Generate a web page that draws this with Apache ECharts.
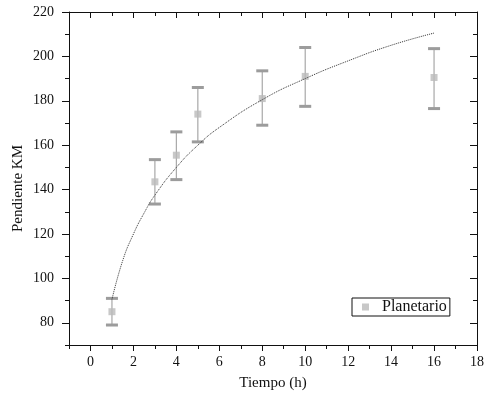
<!DOCTYPE html>
<html>
<head>
<meta charset="utf-8">
<script src="https://cdn.jsdelivr.net/npm/echarts@6/dist/echarts.min.js"></script>
<style>
  html, body { margin: 0; padding: 0; background: #fff; }
  #chart { width: 502px; height: 399px; }
</style>
</head>
<body>
<div id="chart"></div>
<script>
// tick labels
const xTicks = [0, 2, 4, 6, 8, 10, 12, 14, 16, 18];
const yTicks = [80, 100, 120, 140, 160, 180, 200, 220];

// measured points (Planetario)
const tiempo = [1, 3, 4, 5, 8, 10, 16];
const pendiente = [85, 143.5, 155.5, 174, 181, 191, 190.5];
const errLow = [79, 133.5, 144.5, 161.5, 169, 177.5, 176.5];
const errHigh = [91, 153.5, 166, 186, 193.5, 204, 203.5];

// fitted curve
const fitX = [1, 1.5, 2, 2.5, 3, 4, 5, 6, 8, 10, 12, 14, 16];
const fitY = [90.5, 108, 120, 129.5, 137.5, 150, 160, 168, 180.5, 190, 198, 205, 210.5];

const font = 'Liberation Serif';
const ink = '#111';

function xAxisDef(pos, major, inside) {
    return {
        type: 'value', position: pos, min: -1, max: 18,
        interval: major ? undefined : 1,
        splitLine: { show: false },
        axisLine: { show: major, onZero: false, lineStyle: { color: ink, width: 1 } },
        axisTick: major
            ? { show: true, inside: inside, length: 6, customValues: xTicks, lineStyle: { color: ink } }
            : { show: true, inside: inside, length: 4, lineStyle: { color: ink } },
        axisLabel: (major && pos === 'bottom')
            ? { show: true, customValues: xTicks, margin: 10, color: ink, fontFamily: font, fontSize: 14 }
            : { show: false }
    };
}

function yAxisDef(pos, major, inside) {
    return {
        type: 'value', position: pos, min: 70, max: 220,
        interval: major ? undefined : 10,
        splitLine: { show: false },
        axisLine: { show: major, onZero: false, lineStyle: { color: ink, width: 1 } },
        axisTick: major
            ? { show: true, inside: inside, length: 7, customValues: yTicks, lineStyle: { color: ink } }
            : { show: true, inside: inside, length: 4, lineStyle: { color: ink } },
        axisLabel: (major && pos === 'left')
            ? { show: true, customValues: yTicks, margin: 15, color: ink, fontFamily: font, fontSize: 14 }
            : { show: false }
    };
}

const xAxes = [
    xAxisDef('bottom', true, false),
    xAxisDef('bottom', false, false),
    xAxisDef('top', true, true),
    xAxisDef('top', false, true)
];
xAxes[0].name = 'Tiempo (h)';
xAxes[0].nameLocation = 'middle';
xAxes[0].nameGap = 31;
xAxes[0].nameMoveOverlap = false;
xAxes[0].nameTextStyle = { color: ink, fontFamily: font, fontSize: 15 };

const yAxes = [
    yAxisDef('left', true, false),
    yAxisDef('left', false, false),
    yAxisDef('right', true, true),
    yAxisDef('right', false, true)
];
yAxes[0].name = 'Pendiente KM';
yAxes[0].nameLocation = 'middle';
yAxes[0].nameGap = 43;
yAxes[0].nameMoveOverlap = false;
yAxes[0].nameTextStyle = { color: ink, fontFamily: font, fontSize: 15, padding: [0, 20, 0, 0] };

const errData = tiempo.map((t, i) => [t, errLow[i], errHigh[i]]);
const pointData = tiempo.map((t, i) => [t, pendiente[i]]);
const fitData = fitX.map((t, i) => [t, fitY[i]]);

const chart = echarts.init(document.getElementById('chart'), null, { renderer: 'canvas' });
chart.setOption({
    animation: false,
    backgroundColor: '#fff',
    grid: { left: 69, right: 25, top: 12, bottom: 54 },
    xAxis: xAxes,
    yAxis: yAxes,
    legend: {
        data: ['Planetario'],
        left: 352, top: 298,
        orient: 'vertical',
        borderColor: ink, borderWidth: 1,
        padding: [1, 3, 1, 10],
        itemWidth: 7, itemHeight: 7,
        icon: 'rect',
        textStyle: { color: ink, fontFamily: font, fontSize: 16, padding: [0, 0, 0, 8] }
    },
    series: [
        {
            name: 'error',
            type: 'custom',
            xAxisIndex: 0, yAxisIndex: 0,
            z: 2,
            encode: { x: 0, y: [1, 2] },
            data: errData,
            renderItem: function (params, api) {
                const x = api.value(0);
                const lo = api.coord([x, api.value(1)]);
                const hi = api.coord([x, api.value(2)]);
                return {
                    type: 'group',
                    children: [
                        { type: 'line', shape: { x1: lo[0], y1: lo[1], x2: hi[0], y2: hi[1] },
                          style: { stroke: '#a8a8a8', lineWidth: 1.2 } },
                        { type: 'rect', shape: { x: hi[0] - 6, y: hi[1] - 1.5, width: 12, height: 3 },
                          style: { fill: '#9c9c9c' } },
                        { type: 'rect', shape: { x: lo[0] - 6, y: lo[1] - 1.5, width: 12, height: 3 },
                          style: { fill: '#9c9c9c' } }
                    ]
                };
            }
        },
        {
            name: 'Planetario',
            type: 'scatter',
            xAxisIndex: 0, yAxisIndex: 0,
            z: 3,
            symbol: 'rect',
            symbolSize: 7,
            itemStyle: { color: '#bababa' },
            data: pointData
        },
        {
            name: 'ajuste',
            type: 'line',
            xAxisIndex: 0, yAxisIndex: 0,
            z: 4,
            smooth: true,
            showSymbol: false,
            lineStyle: { color: '#333', width: 1, type: [1, 1] },
            data: fitData
        }
    ]
});
</script>
</body>
</html>
